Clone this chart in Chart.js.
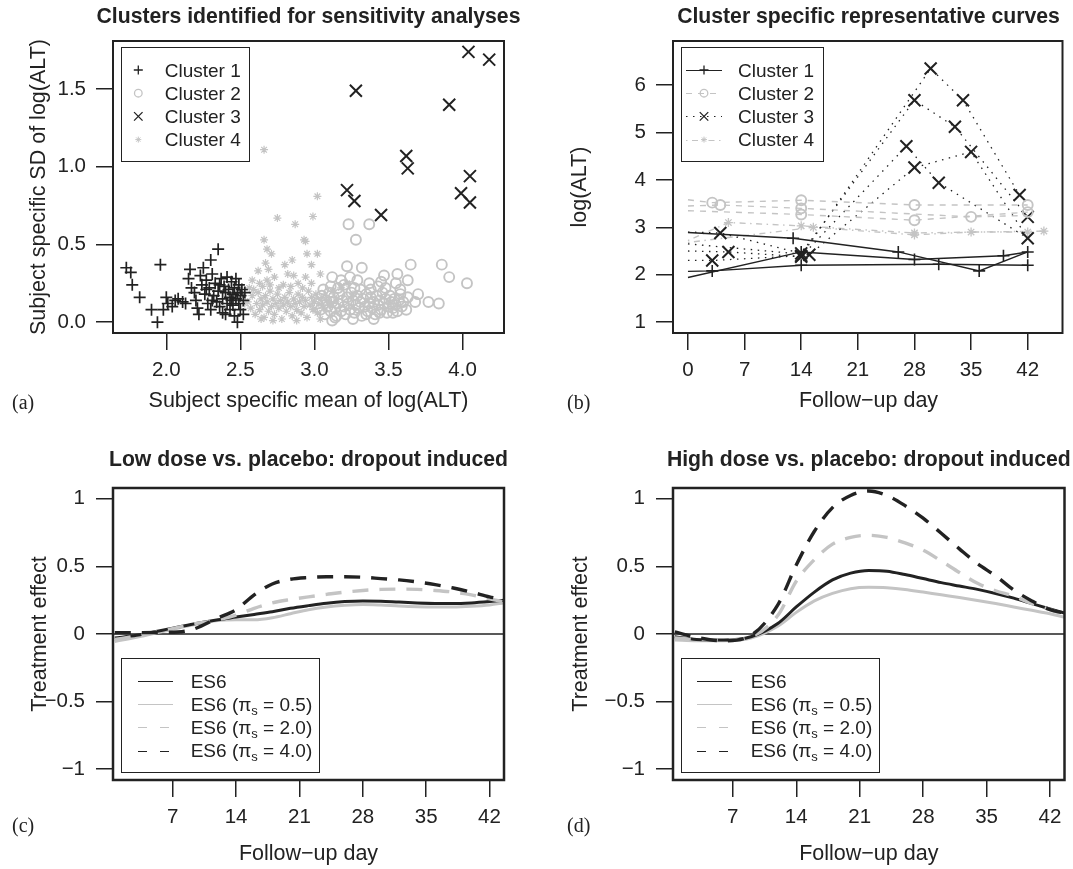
<!DOCTYPE html>
<html>
<head>
<meta charset="utf-8">
<script src="https://cdn.jsdelivr.net/npm/chart.js@4.4.1/dist/chart.umd.min.js"></script>
<style>
  html, body { margin: 0; padding: 0; background: #fff; }
  #page { position: relative; width: 1073px; height: 869px; overflow: hidden;
          font-family: 'Liberation Sans', Arial, Helvetica, sans-serif; color: #222; }
  canvas { position: absolute; }
  .t { position: absolute; white-space: nowrap; }
  .main { font-weight: bold; }
  .letter { font-family: 'Liberation Serif', 'Times New Roman', serif; }
  .lg { position: absolute; border: 1.3px solid #222; box-sizing: border-box; }
  sub { font-size: 13px; line-height: 0; vertical-align: -4px; }
</style>
</head>
<body>
<div id="page">
  <canvas id="cA" width="536" height="434" style="left:0;top:0"></canvas>
  <canvas id="cB" width="537" height="434" style="left:536px;top:0"></canvas>
  <canvas id="cC" width="536" height="435" style="left:0;top:434px"></canvas>
  <canvas id="cD" width="537" height="435" style="left:536px;top:434px"></canvas>
</div>
<script>
// --- DATOS: panel (a), media y SD por sujeto ---
const clus1 = [[1.73,0.35],[1.76,0.32],[1.77,0.24],[1.82,0.16],[1.90,0.08],[1.94,0.00],[1.96,0.37],[1.98,0.08],[2.00,0.16],[2.01,0.12],[2.04,0.10],[2.06,0.14],[2.08,0.15],[2.11,0.13],[2.13,0.12],
  [2.15,0.28],[2.16,0.34],[2.17,0.22],[2.19,0.19],[2.20,0.14],[2.21,0.09],[2.22,0.05],[2.23,0.30],[2.24,0.24],[2.25,0.35],[2.26,0.18],[2.27,0.27],[2.28,0.12],[2.29,0.22],[2.30,0.40],[2.30,0.08],
  [2.31,0.31],[2.32,0.17],[2.33,0.25],[2.34,0.13],[2.35,0.47],[2.35,0.20],[2.36,0.10],[2.37,0.28],[2.38,0.15],[2.38,0.06],[2.39,0.23],[2.40,0.19],[2.41,0.12],[2.41,0.29],[2.42,0.21],[2.43,0.16],
  [2.43,0.08],[2.44,0.26],[2.45,0.18],[2.45,0.11],[2.46,0.22],[2.46,0.04],[2.47,0.15],[2.47,0.28],[2.48,0.19],[2.48,0.00],[2.49,0.24],[2.49,0.12],[2.50,0.17],[2.50,0.08],[2.51,0.21],[2.52,0.14],
  [2.52,0.05],[2.53,0.19],[2.31,0.14],[2.27,0.21],[2.36,0.24],[2.40,0.05],[2.44,0.14]];
const clus2 = [[3.23,0.63],[3.37,0.63],[3.28,0.53],[3.22,0.36],[3.32,0.35],[3.12,0.29],[3.24,0.29],[3.47,0.30],[3.56,0.31],[3.65,0.37],[3.63,0.27],[3.86,0.37],[3.91,0.29],[4.03,0.25],
  [3.55,0.25],[3.43,0.23],[3.31,0.21],[3.20,0.24],[3.11,0.23],[3.68,0.13],[3.77,0.13],[3.84,0.12],[3.35,0.05],[3.12,0.01],[3.53,0.06],[3.44,0.06],
  [3.02,0.12],[3.04,0.08],[3.05,0.17],[3.07,0.05],[3.08,0.14],[3.09,0.10],[3.10,0.19],[3.11,0.07],[3.12,0.13],[3.13,0.16],[3.14,0.09],[3.15,0.04],[3.16,0.12],[3.17,0.18],[3.18,0.07],
  [3.19,0.14],[3.20,0.10],[3.21,0.05],[3.22,0.16],[3.23,0.12],[3.24,0.08],[3.25,0.19],[3.26,0.14],[3.27,0.06],[3.28,0.11],[3.29,0.17],[3.30,0.09],[3.31,0.13],[3.32,0.04],[3.33,0.15],
  [3.34,0.10],[3.35,0.18],[3.36,0.07],[3.37,0.12],[3.38,0.16],[3.39,0.09],[3.40,0.13],[3.41,0.05],[3.42,0.17],[3.43,0.11],[3.44,0.14],[3.45,0.08],[3.46,0.19],[3.47,0.12],[3.48,0.15],
  [3.49,0.06],[3.50,0.10],[3.51,0.17],[3.52,0.13],[3.53,0.09],[3.54,0.15],[3.55,0.11],[3.56,0.07],[3.57,0.14],[3.58,0.18],[3.59,0.10],[3.60,0.13],[3.62,0.08],[3.63,0.16],[3.06,0.21],
  [3.16,0.22],[3.27,0.22],[3.38,0.21],[3.48,0.22],[3.58,0.21],[3.14,0.03],[3.26,0.02],[3.40,0.02],[3.18,0.27],[3.29,0.27],[3.37,0.25],[3.45,0.26],[3.70,0.18]];
const clus3 = [[4.04,1.74],[4.18,1.69],[3.28,1.49],[3.91,1.40],[3.62,1.07],[3.63,0.99],[4.05,0.94],[3.22,0.85],[3.27,0.78],[3.45,0.69],[3.99,0.83],[4.05,0.77]];
const clus4 = [[2.66,1.11],[3.02,0.81],[2.99,0.68],[2.75,0.67],[2.87,0.63],[2.93,0.53],[2.66,0.53],[2.94,0.52],[2.68,0.47],[2.71,0.44],[2.95,0.44],[3.02,0.44],[2.85,0.40],[2.67,0.38],
  [2.80,0.37],[2.98,0.37],[2.69,0.34],[2.82,0.31],[3.04,0.31],[2.68,0.27],[2.94,0.29],[2.58,0.27],[2.79,0.24],[2.89,0.25],[2.65,0.23],[2.56,0.22],
  [2.55,0.13],[2.57,0.09],[2.58,0.17],[2.60,0.05],[2.61,0.12],[2.62,0.19],[2.63,0.08],[2.64,0.15],[2.65,0.11],[2.66,0.03],[2.67,0.17],[2.68,0.13],[2.69,0.07],[2.70,0.20],[2.71,0.10],
  [2.72,0.15],[2.73,0.05],[2.74,0.12],[2.75,0.18],[2.76,0.09],[2.77,0.14],[2.78,0.02],[2.79,0.11],[2.80,0.16],[2.81,0.07],[2.82,0.13],[2.83,0.19],[2.84,0.10],[2.85,0.04],[2.86,0.15],
  [2.87,0.12],[2.88,0.08],[2.89,0.18],[2.90,0.13],[2.91,0.06],[2.92,0.16],[2.93,0.10],[2.94,0.14],[2.95,0.03],[2.96,0.20],[2.97,0.11],[2.98,0.16],[2.99,0.08],[3.00,0.13],[3.01,0.18],
  [3.02,0.06],[3.03,0.12],[3.05,0.16],[3.06,0.09],[3.08,0.14],[3.10,0.11],[3.12,0.20],[3.15,0.15],[3.18,0.22],[3.22,0.25],[3.26,0.18],[2.59,0.21],[2.63,0.25],[2.70,0.24],[2.76,0.22],
  [2.84,0.23],[2.92,0.22],[2.98,0.25],[2.73,0.29],[2.62,0.33],[2.86,0.30],[2.52,0.17],[2.50,0.21],[2.53,0.12],[2.72,0.01],[2.88,0.01],[3.04,0.02],[2.64,0.02]];

// --- DATOS: panel (b), curvas representativas [día, log(ALT), con marca] ---
const curves1 = [
  [[0,2.89,0],[13,2.77,1],[26,2.48,1],[36,2.08,1],[42,2.48,1]],
  [[0,1.94,0],[14,2.48,1],[28,2.32,1],[39,2.40,1],[42,2.48,0]],
  [[0,2.07,0],[3,2.08,1],[14,2.20,1],[31,2.22,1],[42,2.20,1]]];
const curves2 = [
  [[0,3.58,0],[3,3.52,1],[14,3.57,1],[28,3.47,1],[42,3.47,1]],
  [[0,3.45,0],[4,3.47,1],[14,3.40,1],[35,3.22,1],[42,3.25,0]],
  [[0,3.35,0],[14,3.27,1],[28,3.15,1],[42,3.32,1]]];
const curves3 = [
  [[0,2.30,0],[3,2.30,1],[14,2.40,1],[30,6.35,1],[34,5.68,1],[41,3.68,1]],
  [[0,2.90,0],[4,2.88,1],[14,2.45,1],[28,5.68,1],[33,5.12,1],[42,3.22,1]],
  [[0,2.50,0],[5,2.48,1],[14,2.38,1],[27,4.71,1],[31,3.94,1],[42,2.77,1]],
  [[0,2.65,0],[15,2.42,1],[28,4.26,1],[35,4.59,1],[42,2.77,0]]];
const curves4 = [
  [[0,2.72,0],[5,3.10,1],[14,3.03,1],[28,2.88,1],[44,2.92,1]],
  [[0,2.68,0],[15.5,3.00,1],[28,2.84,1],[35,2.90,1],[42,2.90,1]]];

// --- DATOS: paneles (c) y (d), efecto del tratamiento ---
const daysCD   = [0.6, 3, 6, 9, 12, 14, 16, 18, 20, 22, 24, 26, 28, 30, 32, 34, 36, 38, 40, 42, 43.6];
const lowES6   = [-0.03,-0.01,0.03,0.07,0.105,0.125,0.145,0.165,0.19,0.21,0.228,0.24,0.245,0.243,0.236,0.23,0.226,0.225,0.23,0.24,0.25];
const lowPi05  = [-0.055,-0.025,0.02,0.065,0.1,0.105,0.105,0.12,0.15,0.18,0.2,0.212,0.218,0.214,0.207,0.202,0.2,0.2,0.205,0.215,0.23];
const lowPi20  = [-0.04,-0.015,0.025,0.07,0.105,0.14,0.19,0.23,0.255,0.275,0.293,0.31,0.322,0.33,0.332,0.33,0.322,0.31,0.29,0.26,0.237];
const lowPi40  = [0.01,0.01,0.012,0.03,0.12,0.18,0.29,0.37,0.405,0.418,0.424,0.424,0.42,0.41,0.4,0.385,0.365,0.34,0.31,0.275,0.254];
const highES6  = [-0.02,-0.04,-0.045,-0.02,0.08,0.2,0.31,0.4,0.45,0.47,0.465,0.44,0.41,0.38,0.355,0.33,0.3,0.265,0.225,0.185,0.155];
const highPi05 = [-0.045,-0.05,-0.05,-0.03,0.06,0.16,0.245,0.3,0.335,0.345,0.342,0.33,0.31,0.29,0.27,0.248,0.225,0.2,0.175,0.15,0.125];
const highPi20 = [-0.03,-0.04,-0.045,-0.02,0.14,0.39,0.55,0.665,0.715,0.73,0.715,0.674,0.62,0.54,0.455,0.375,0.32,0.28,0.225,0.18,0.143];
const highPi40 = [0.015,-0.025,-0.05,-0.01,0.22,0.51,0.76,0.935,1.025,1.058,1.025,0.95,0.857,0.745,0.63,0.52,0.43,0.325,0.245,0.18,0.155];

// --- EJES ---
const ticksAx = [2.0, 2.5, 3.0, 3.5, 4.0];
const ticksAy = [0.0, 0.5, 1.0, 1.5];
const ticksBx = [0, 7, 14, 21, 28, 35, 42];
const ticksBy = [1, 2, 3, 4, 5, 6];
const ticksCx = [7, 14, 21, 28, 35, 42];
const ticksCy = [-1, -0.5, 0, 0.5, 1];
const rangeCx = [0.4, 43.6];

const FONT = "'Liberation Sans', Arial, Helvetica, sans-serif";
const INK = '#222';
const GREY = '#c4c4c4';
const page = document.getElementById('page');

// marco del panel como box() de R
const boxPlugin = {
  id: 'rbox',
  afterDatasetsDraw(chart, args, opts) {
    const { ctx, chartArea: a } = chart;
    ctx.save();
    ctx.strokeStyle = INK;
    ctx.lineWidth = opts.width || 2;
    ctx.strokeRect(a.left, a.top, a.right - a.left, a.bottom - a.top);
    ctx.restore();
  }
};

// simbolos de la leyenda (el texto va en HTML); coordenadas de pagina
const legendMarks = {
  id: 'legendMarks',
  afterDraw(chart, args, opts) {
    const ctx = chart.ctx;
    (opts.items || []).forEach(it => {
      const y = it.y - opts.oy;
      ctx.save();
      ctx.strokeStyle = it.color;
      if (it.x2) {
        const ly = Math.round(y) + 0.5;
        ctx.lineWidth = it.lw || 1.3;
        ctx.setLineDash(it.dash || []);
        ctx.beginPath();
        ctx.moveTo(it.x1 - opts.ox, ly);
        ctx.lineTo(it.x2 - opts.ox, ly);
        ctx.stroke();
        ctx.setLineDash([]);
      }
      if (it.style) {
        ctx.fillStyle = 'rgba(0,0,0,0)';
        ctx.lineWidth = it.pw;
        Chart.helpers.drawPoint(ctx, { pointStyle: it.style, radius: it.r, borderWidth: it.pw, rotation: 0 }, it.mx - opts.ox, y);
      }
      ctx.restore();
    });
  }
};

function axis(range, ticks, fmt, size, isX, pad) {
  return {
    type: 'linear', min: range[0], max: range[1],
    afterBuildTicks: a => { a.ticks = ticks.map(v => ({ value: v })); },
    afterFit: a => { if (isX) a.height = size; else a.width = size; },
    grid: { drawOnChartArea: false, drawTicks: true, tickLength: 17, color: INK, lineWidth: 1.5 },
    border: { display: false },
    ticks: { color: INK, font: { family: FONT, size: 20.5 }, padding: pad, autoSkip: false, maxRotation: 0, callback: v => fmt(v) }
  };
}

function makeChart(id, datasets, xs, ys, pad, boxW, legend) {
  return new Chart(document.getElementById(id), {
    type: 'scatter',
    data: { datasets },
    options: {
      responsive: false, animation: false, devicePixelRatio: 1, events: [],
      layout: { padding: pad },
      scales: { x: xs, y: ys },
      plugins: { legend: { display: false }, tooltip: { enabled: false }, rbox: { width: boxW }, legendMarks: legend }
    },
    plugins: [boxPlugin, legendMarks]
  });
}

// --- TEXTOS ---
function text(html, x, base, size, cls, center) {
  const d = document.createElement('div');
  d.className = 't ' + (cls || '');
  d.innerHTML = html;
  d.style.fontSize = size + 'px';
  d.style.lineHeight = size + 'px';
  d.style.top = (base - 0.8465 * size) + 'px';
  d.style.left = x + 'px';
  if (center) d.style.transform = 'translateX(-50%)';
  page.appendChild(d);
}
function vtext(html, baseX, cy, size) {
  const d = document.createElement('div');
  d.className = 't';
  d.innerHTML = html;
  d.style.fontSize = size + 'px';
  d.style.lineHeight = size + 'px';
  d.style.left = (baseX - 0.3465 * size) + 'px';
  d.style.top = cy + 'px';
  d.style.transform = 'translate(-50%,-50%) rotate(-90deg)';
  page.appendChild(d);
}
function legendBox(l, t, w, h, labels, textX, rows) {
  const b = document.createElement('div');
  b.className = 'lg';
  Object.assign(b.style, { left: l + 'px', top: t + 'px', width: w + 'px', height: h + 'px' });
  page.appendChild(b);
  labels.forEach((s, i) => text(s, textX, rows[i] + 0.358 * 19, 19, '', false));
}

const fmt1 = v => v.toFixed(1);
const fmtInt = v => String(v);
const fmtEff = v => (v < 0 ? '\u2212' + String(-v) : String(v));
const pts = arr => arr.map(([x, y]) => ({ x, y }));

// --- PANEL (a) ---
makeChart('cA', [
  { data: pts(clus1), pointStyle: 'cross', pointRadius: 6, pointBorderWidth: 1.7, pointBorderColor: INK },
  { data: pts(clus2), pointStyle: 'circle', pointRadius: 5, pointBorderWidth: 1.9, pointBorderColor: GREY, pointBackgroundColor: 'rgba(0,0,0,0)' },
  { data: pts(clus3), pointStyle: 'crossRot', pointRadius: 8.5, pointBorderWidth: 2, pointBorderColor: INK },
  { data: pts(clus4), pointStyle: 'star', pointRadius: 4, pointBorderWidth: 1.2, pointBorderColor: GREY }
], axis([1.64, 4.28], ticksAx, fmt1, 101, true, 8), axis([-0.07, 1.81], ticksAy, fmt1, 113, false, 10),
  { top: 41, right: 32, left: 0, bottom: 0 }, 2,
  { ox: 0, oy: 0, items: [
    { y: 70, mx: 138.3, color: INK, style: 'cross', r: 4.5, pw: 1.3 },
    { y: 93.2, mx: 138.3, color: GREY, style: 'circle', r: 3.8, pw: 1.3 },
    { y: 116.4, mx: 138.3, color: INK, style: 'crossRot', r: 6, pw: 1.3 },
    { y: 139.6, mx: 138.3, color: GREY, style: 'star', r: 3, pw: 1 }
  ] });

// --- PANEL (b) ---
const bStyles = [
  { list: curves1, color: INK, dash: [], style: 'cross', r: 6, pw: 1.6, lw: 1.4 },
  { list: curves2, color: GREY, dash: [6, 6], style: 'circle', r: 5, pw: 1.9, lw: 1.4 },
  { list: curves3, color: INK, dash: [1.5, 5.5], style: 'crossRot', r: 8.5, pw: 2, lw: 1.3 },
  { list: curves4, color: GREY, dash: [1.5, 4.5, 6, 4.5], style: 'star', r: 4.5, pw: 1.3, lw: 1.4 }
];
const bSets = [];
bStyles.forEach(s => s.list.forEach(c => bSets.push({
  data: c.map(([x, y]) => ({ x, y })), showLine: true, tension: 0,
  borderColor: s.color, borderWidth: s.lw, borderDash: s.dash,
  pointStyle: s.style, pointRadius: c.map(p => (p[2] ? s.r : 0)), pointBorderWidth: s.pw,
  pointBorderColor: s.color, pointBackgroundColor: 'rgba(0,0,0,0)'
})));
makeChart('cB', bSets, axis([-1.85, 46.3], ticksBx, fmtInt, 101, true, 8), axis([0.77, 6.93], ticksBy, fmtInt, 137, false, 10),
  { top: 41, right: 9, left: 0, bottom: 0 }, 2,
  { ox: 536, oy: 0, items: [
    { y: 70, x1: 686, x2: 722, mx: 704, color: INK, lw: 1.2, dash: [], style: 'cross', r: 4.5, pw: 1.3 },
    { y: 93.2, x1: 686, x2: 722, mx: 704, color: GREY, lw: 1.2, dash: [6, 6], style: 'circle', r: 3.8, pw: 1.3 },
    { y: 116.4, x1: 686, x2: 722, mx: 704, color: INK, lw: 1.2, dash: [1.5, 5.5], style: 'crossRot', r: 6, pw: 1.3 },
    { y: 139.6, x1: 686, x2: 722, mx: 704, color: GREY, lw: 1.2, dash: [1.5, 4.5, 6, 4.5], style: 'star', r: 3, pw: 1 }
  ] });

// --- PANELES (c) y (d) ---
function effectSets(es6, p05, p20, p40) {
  const curve = (vals, color, dash, w) => ({
    data: daysCD.map((d, i) => ({ x: d, y: vals[i] })), showLine: true, pointRadius: 0,
    cubicInterpolationMode: 'monotone', borderColor: color, borderDash: dash, borderWidth: w
  });
  return [
    curve(p40, INK, [16, 11], 3.4),
    curve(p20, GREY, [16, 11], 3.4),
    curve(es6, INK, [], 3),
    curve(p05, GREY, [], 3),
    { data: rangeCx.map(x => ({ x, y: 0 })), showLine: true, pointRadius: 0, borderColor: INK, borderWidth: 1.3 }
  ];
}
// shift: desplazamiento horizontal del panel; canvasX: origen del canvas
const legendCD = (shift, canvasX) => ({ ox: canvasX, oy: 434, items: [
  { y: 681, x1: shift + 138, x2: shift + 173, color: INK, lw: 1.2 },
  { y: 704, x1: shift + 138, x2: shift + 173, color: GREY, lw: 1.2 },
  { y: 727.4, x1: shift + 138, x2: shift + 173, color: GREY, lw: 1.2, dash: [9, 13] },
  { y: 750.6, x1: shift + 138, x2: shift + 173, color: INK, lw: 1.2, dash: [9, 13] }
] });
makeChart('cC', effectSets(lowES6, lowPi05, lowPi20, lowPi40),
  axis(rangeCx, ticksCx, fmtInt, 89, true, 8), axis([-1.08, 1.08], ticksCy, fmtEff, 113, false, 11),
  { top: 54, right: 32, left: 0, bottom: 0 }, 2.5, legendCD(0, 0));
makeChart('cD', effectSets(highES6, highPi05, highPi20, highPi40),
  axis(rangeCx, ticksCx, fmtInt, 89, true, 8), axis([-1.08, 1.08], ticksCy, fmtEff, 137, false, 11),
  { top: 54, right: 8.5, left: 0, bottom: 0 }, 2.5, legendCD(559, 536));

// --- TITULOS Y ETIQUETAS ---
text('Clusters identified for sensitivity analyses', 308.5, 23, 21.2, 'main', true);
text('Cluster specific representative curves', 868.5, 23, 21.2, 'main', true);
text('Low dose vs. placebo: dropout induced', 308.5, 466, 21.2, 'main', true);
text('High dose vs. placebo: dropout induced', 868.8, 466, 21.2, 'main', true);

text('Subject specific mean of log(ALT)', 308.5, 408, 21.5, '', true);
text('Follow\u2212up day', 868.5, 408, 21.5, '', true);
text('Follow\u2212up day', 308.5, 861, 21.5, '', true);
text('Follow\u2212up day', 868.8, 861, 21.5, '', true);

vtext('Subject specific SD of log(ALT)', 46, 187, 21.5);
vtext('log(ALT)', 587, 187, 21.5);
vtext('Treatment effect', 47, 634, 21.5);
vtext('Treatment effect', 588, 634, 21.5);

text('(a)', 12, 409, 20, 'letter', false);
text('(b)', 567, 409, 20, 'letter', false);
text('(c)', 12, 832, 20, 'letter', false);
text('(d)', 567, 832, 20, 'letter', false);

const rowsTop = [70, 93.2, 116.4, 139.6];
const rowsBot = [681, 704, 727.4, 750.6];
legendBox(121, 47, 129, 115, ['Cluster 1', 'Cluster 2', 'Cluster 3', 'Cluster 4'], 164.7, rowsTop);
legendBox(681, 47, 143, 115, ['Cluster 1', 'Cluster 2', 'Cluster 3', 'Cluster 4'], 738, rowsTop);
const esLabels = ['ES6', 'ES6 (\u03c0<sub>s</sub> = 0.5)', 'ES6 (\u03c0<sub>s</sub> = 2.0)', 'ES6 (\u03c0<sub>s</sub> = 4.0)'];
legendBox(121, 658, 199, 115, esLabels, 190.7, rowsBot);
legendBox(681, 658, 199, 115, esLabels, 750.7, rowsBot);
</script>
</body>
</html>
